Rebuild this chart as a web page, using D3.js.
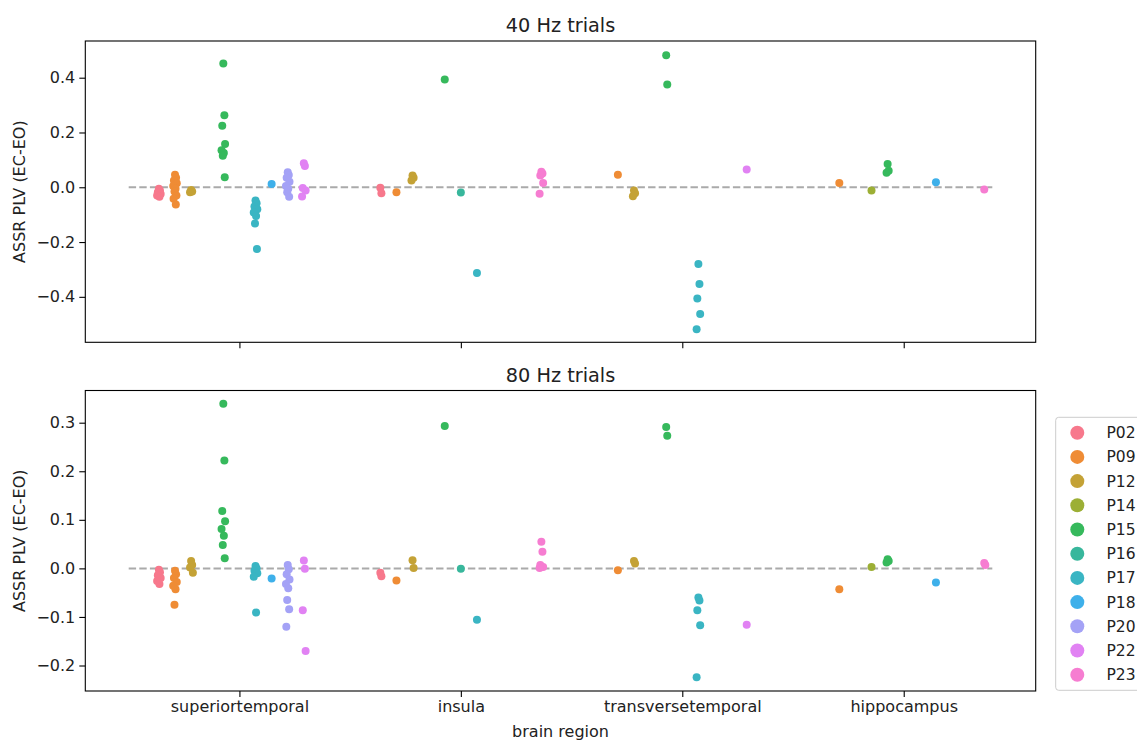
<!DOCTYPE html>
<html>
<head>
<meta charset="utf-8">
<script src="https://cdn.jsdelivr.net/npm/d3@7"></script>
<style>
  body { margin: 0; background: #fff; }
  svg { display: block; font-family: "DejaVu Sans", sans-serif; }
</style>
</head>
<body>
<svg id="chart" width="1137" height="740"></svg>
<script>
// Brain regions on the x axis
const regions = ["superiortemporal", "insula", "transversetemporal", "hippocampus"];
// Participants (hue levels)
const participants = ["P02", "P09", "P12", "P14", "P15", "P16", "P17", "P18", "P20", "P22", "P23"];
const participantColors = ["#f7788c", "#ef8c35", "#c4a236", "#9caf35", "#36b95c", "#38b79c",
                           "#3ab5c3", "#3eb0ea", "#a4a2f6", "#e182f3", "#f67dd1"];

// ASSR PLV difference (EC-EO), 40 Hz trials: one entry per [region, participant, values]
const plv40 = [
  ["superiortemporal", "P02", [-0.005, -0.012, -0.018, -0.025, -0.03, -0.035]],
  ["superiortemporal", "P09", [0.046, 0.035, 0.025, 0.015, 0.005, -0.005, -0.015, -0.03, -0.042, -0.063]],
  ["superiortemporal", "P12", [-0.01, -0.015, -0.018]],
  ["superiortemporal", "P15", [0.452, 0.263, 0.225, 0.158, 0.135, 0.125, 0.115, 0.037]],
  ["superiortemporal", "P17", [-0.048, -0.058, -0.07, -0.08, -0.092, -0.105, -0.132, -0.225]],
  ["superiortemporal", "P18", [0.012]],
  ["superiortemporal", "P20", [0.055, 0.045, 0.035, 0.02, 0.005, -0.005, -0.018, -0.035]],
  ["superiortemporal", "P22", [0.088, 0.078, -0.003, -0.012, -0.034]],
  ["insula", "P02", [-0.002, -0.022]],
  ["insula", "P09", [-0.018]],
  ["insula", "P12", [0.043, 0.035, 0.025]],
  ["insula", "P15", [0.393]],
  ["insula", "P16", [-0.019]],
  ["insula", "P17", [-0.313]],
  ["insula", "P23", [0.057, 0.05, 0.043, 0.016, -0.024]],
  ["transversetemporal", "P09", [0.046]],
  ["transversetemporal", "P12", [-0.012, -0.022, -0.033]],
  ["transversetemporal", "P15", [0.482, 0.375]],
  ["transversetemporal", "P17", [-0.28, -0.353, -0.406, -0.463, -0.518]],
  ["transversetemporal", "P22", [0.065]],
  ["hippocampus", "P09", [0.016]],
  ["hippocampus", "P14", [-0.012]],
  ["hippocampus", "P15", [0.085, 0.06, 0.053]],
  ["hippocampus", "P18", [0.018]],
  ["hippocampus", "P23", [-0.008]]
];

// ASSR PLV difference (EC-EO), 80 Hz trials
const plv80 = [
  ["superiortemporal", "P02", [-0.003, -0.008, -0.014, -0.02, -0.026, -0.032]],
  ["superiortemporal", "P09", [-0.005, -0.012, -0.02, -0.028, -0.036, -0.043, -0.075]],
  ["superiortemporal", "P12", [0.015, 0.007, 0.002, -0.009]],
  ["superiortemporal", "P15", [0.339, 0.222, 0.118, 0.097, 0.081, 0.067, 0.048, 0.021]],
  ["superiortemporal", "P17", [0.005, 0.0, -0.005, -0.01, -0.017, -0.091]],
  ["superiortemporal", "P18", [-0.021]],
  ["superiortemporal", "P20", [0.007, -0.002, -0.012, -0.023, -0.032, -0.041, -0.065, -0.084, -0.12]],
  ["superiortemporal", "P22", [0.016, -0.001, -0.086, -0.17]],
  ["insula", "P02", [-0.009, -0.016]],
  ["insula", "P09", [-0.025]],
  ["insula", "P12", [0.017, 0.001]],
  ["insula", "P15", [0.293]],
  ["insula", "P16", [-0.001]],
  ["insula", "P17", [-0.106]],
  ["insula", "P23", [0.055, 0.034, 0.007, 0.003, 0.001]],
  ["transversetemporal", "P09", [-0.004]],
  ["transversetemporal", "P12", [0.015, 0.01]],
  ["transversetemporal", "P15", [0.291, 0.273]],
  ["transversetemporal", "P17", [-0.06, -0.066, -0.086, -0.117, -0.224]],
  ["transversetemporal", "P22", [-0.116]],
  ["hippocampus", "P09", [-0.043]],
  ["hippocampus", "P14", [0.003]],
  ["hippocampus", "P15", [0.019, 0.015, 0.012]],
  ["hippocampus", "P18", [-0.029]],
  ["hippocampus", "P23", [0.011, 0.007]]
];

const ticks40 = [-0.4, -0.2, 0.0, 0.2, 0.4];
const ticks80 = [-0.2, -0.1, 0.0, 0.1, 0.2, 0.3];

const svg = d3.select("#chart");
const left = 85.3, right = 1035.7;
const color = d3.scaleOrdinal().domain(participants).range(participantColors);

// category index -> pixel; axes span slightly beyond the outermost category
const x = d3.scaleLinear().domain([-0.696, 3.596]).range([left, right]);
const dodgeWidth = 0.8;
const nHue = participants.length;
const jitterPattern = [0, 0.6, -0.6, 1, -1, 0.3, -0.3, 0.8, -0.8, 0.45];

function hueOffset(p) {
  const k = participants.indexOf(p);
  return -dodgeWidth / 2 + dodgeWidth / nHue * (k + 0.5);
}

function drawPanel(cfg) {
  const y = d3.scaleLinear().domain(cfg.domain).range([cfg.bottom, cfg.top]);
  const g = svg.append("g");

  // zero reference line
  g.append("line")
    .attr("x1", x(-0.5)).attr("x2", x(3.4))
    .attr("y1", y(0)).attr("y2", y(0))
    .attr("stroke", "#aaaaaa").attr("stroke-width", 2)
    .attr("stroke-dasharray", "7.4,3.2");

  // points
  const pts = [];
  cfg.data.forEach(([region, p, vals]) => {
    const ci = regions.indexOf(region);
    vals.forEach((v, i) => {
      pts.push({ cx: ci + hueOffset(p) + jitterPattern[i % jitterPattern.length] * 0.008, v, p });
    });
  });
  g.selectAll("circle.pt").data(pts).enter().append("circle")
    .attr("class", "pt")
    .attr("cx", d => x(d.cx)).attr("cy", d => y(d.v))
    .attr("r", 4)
    .attr("fill", d => color(d.p));

  // y axis
  const yAxis = d3.axisLeft(y).tickValues(cfg.ticks).tickSize(6).tickPadding(4)
    .tickFormat(d => d3.format(".1f")(d).replace("-", "\u2212"));
  const ya = g.append("g").attr("transform", `translate(${left},0)`).call(yAxis);
  ya.select(".domain").remove();
  ya.selectAll("line").attr("stroke", "#000").attr("stroke-width", 1.1);
  ya.selectAll("text").attr("font-size", 16).attr("fill", "#222").attr("font-family", "DejaVu Sans");

  // x axis
  const xAxis = d3.axisBottom(x).tickValues([0, 1, 2, 3]).tickSize(6).tickPadding(4)
    .tickFormat(cfg.showLabels ? (d => regions[d]) : "");
  const xa = g.append("g").attr("transform", `translate(0,${cfg.bottom})`).call(xAxis);
  xa.select(".domain").remove();
  xa.selectAll("line").attr("stroke", "#000").attr("stroke-width", 1.1);
  xa.selectAll("text").attr("font-size", 16).attr("fill", "#222").attr("font-family", "DejaVu Sans");

  // frame
  g.append("rect")
    .attr("x", left).attr("y", cfg.top)
    .attr("width", right - left).attr("height", cfg.bottom - cfg.top)
    .attr("fill", "none").attr("stroke", "#000").attr("stroke-width", 1.1);

  // title
  g.append("text")
    .attr("x", (left + right) / 2).attr("y", cfg.top - 9)
    .attr("text-anchor", "middle").attr("font-size", 19.3).attr("fill", "#222")
    .text(cfg.title);

  // y label
  g.append("text")
    .attr("transform", `translate(25,${(cfg.top + cfg.bottom) / 2}) rotate(-90)`)
    .attr("text-anchor", "middle").attr("font-size", 16).attr("fill", "#222")
    .text("ASSR PLV (EC-EO)");
}

drawPanel({ data: plv40, domain: [-0.566, 0.534], ticks: ticks40, top: 41, bottom: 342.3,
            title: "40 Hz trials", showLabels: false });
drawPanel({ data: plv80, domain: [-0.2525, 0.3663], ticks: ticks80, top: 390.5, bottom: 691,
            title: "80 Hz trials", showLabels: true });

svg.append("text")
  .attr("x", (left + right) / 2).attr("y", 737)
  .attr("text-anchor", "middle").attr("font-size", 16).attr("fill", "#222")
  .text("brain region");

// legend
const leg = svg.append("g");
leg.append("rect")
  .attr("x", 1055.7).attr("y", 417.3).attr("width", 110).attr("height", 273)
  .attr("rx", 3).attr("fill", "#fff").attr("fill-opacity", 0.8)
  .attr("stroke", "#cccccc").attr("stroke-width", 1);
const rows = leg.selectAll("g.row").data(participants).enter().append("g")
  .attr("class", "row")
  .attr("transform", (d, i) => `translate(0,${432.7 + i * 24.2})`);
rows.append("circle").attr("cx", 1077.3).attr("cy", 0).attr("r", 7).attr("fill", d => color(d));
rows.append("text").attr("x", 1106.5).attr("y", 5.5)
  .attr("font-size", 15.5).attr("fill", "#222").text(d => d);
</script>
</body>
</html>
